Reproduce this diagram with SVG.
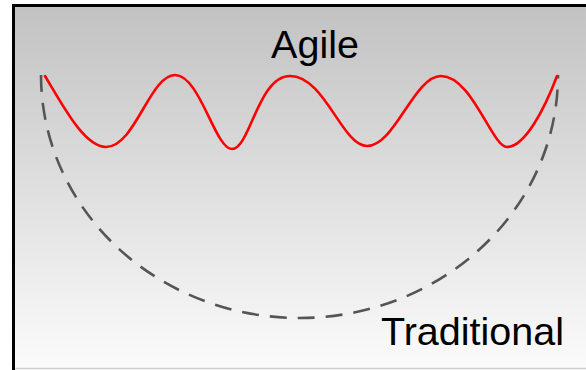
<svg xmlns="http://www.w3.org/2000/svg" width="586" height="370" viewBox="0 0 586 370">
  <defs>
    <linearGradient id="bg" x1="0" y1="0" x2="0" y2="1">
      <stop offset="0" stop-color="#c2c2c2"/>
      <stop offset="1" stop-color="#fbfbfb"/>
    </linearGradient>
  </defs>
  <style>
    .label { font-family: "Liberation Sans", Arial, sans-serif; font-size: 39.5px; fill: #000; }
    .agile { fill: none; stroke: #ff0000; stroke-width: 2.6; stroke-linecap: round; }
    .trad { fill: none; stroke: #555555; stroke-width: 2.6; stroke-dasharray: 17 11; }
  </style>
  <rect x="0" y="0" width="586" height="370" fill="#ffffff"/>
  <g id="frame">
    <rect x="13" y="5" width="580" height="363" fill="url(#bg)"/>
    <line x1="13" y1="368.5" x2="586" y2="368.5" stroke="#cccccc" stroke-width="1.5"/>
    <path d="M13.5,370 V5.5 H586" fill="none" stroke="#000" stroke-width="3"/>
  </g>
  <g id="connectors">
    <path id="traditional-curve" class="trad" d="M41,75 A258.5,243 0 0 0 558,75"/>
    <path id="agile-curve" class="agile" d="M45,76 C62,104 84,147 106,147 C135,147 150,75 175,75 C200,75 215,149 232,149 C250,149 258,76 290,76 C325,76 342,146 367,146 C395,146 414,76 441,76 C472,76 492,147 507,147 C525,147 545,108 557,76"/>
  </g>
  <g id="agile-label">
    <text class="label" x="315" y="58" text-anchor="middle">Agile</text>
  </g>
  <g id="traditional-label">
    <text class="label" x="472.5" y="345" text-anchor="middle">Traditional</text>
  </g>
</svg>
